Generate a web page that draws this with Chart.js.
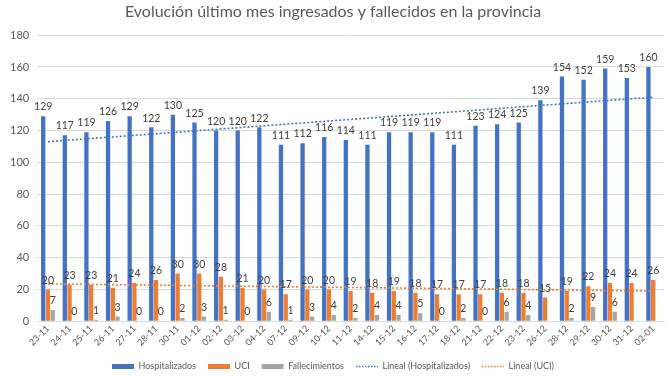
<!DOCTYPE html>
<html lang="es">
  <head>
    <meta charset="UTF-8" />
    <title>Evolución último mes</title>
    <style>
      html, body { margin: 0; padding: 0; background: #fff; }
      .chartBox { width: 670px; height: 377px; }
    </style>
  </head>
  <body>
    <div class="chartBox">
      <canvas id="myChart"></canvas>
    </div>
    <script src="https://cdn.jsdelivr.net/npm/chart.js"></script>
    <script>
      const dias = ["23-11", "24-11", "25-11", "26-11", "27-11", "28-11", "30-11", "01-12", "02-12", "03-12",
        "04-12", "07-12", "09-12", "10-12", "11-12", "14-12", "15-12", "16-12", "17-12", "18-12",
        "21-12", "22-12", "23-12", "26-12", "28-12", "29-12", "30-12", "31-12", "02-01"];
      const hospitalizados = [129, 117, 119, 126, 129, 122, 130, 125, 120, 120, 122, 111, 112, 116, 114,
        111, 119, 119, 119, 111, 123, 124, 125, 139, 154, 152, 159, 153, 160];
      const uci = [20, 23, 23, 21, 24, 26, 30, 30, 28, 21, 20, 17, 20, 20, 19, 18, 19, 18, 17, 17,
        17, 18, 18, 15, 19, 22, 24, 24, 26];
      const fallecimientos = [7, 0, 1, 3, 0, 0, 2, 3, 1, 0, 6, 1, 3, 4, 2, 4, 4, 5, 0, 2,
        0, 6, 4, null, 2, 9, 6, null, null];
      // tendencia lineal: valor en el primer y último día
      const tendHosp = [113, 141];
      const tendUci = [23.5, 19];

      function extremos(par) {
        const d = dias.map(() => null);
        d[0] = par[0];
        d[d.length - 1] = par[1];
        return d;
      }

      // etiquetas de valor encima de las barras
      const etiquetas = {
        id: "etiquetas",
        afterDatasetsDraw(chart) {
          const ctx = chart.ctx;
          ctx.save();
          ctx.font = "10.5px Lato";
          ctx.fillStyle = "#404040";
          ctx.textAlign = "center";
          ctx.textBaseline = "bottom";
          chart.data.datasets.forEach((ds, i) => {
            if (ds.type !== "bar") return;
            const meta = chart.getDatasetMeta(i);
            meta.data.forEach((bar, j) => {
              if (ds.data[j] === null) return;
              ctx.fillText(ds.data[j], bar.x, bar.y - 4);
            });
          });
          ctx.restore();
        },
      };

      const ctx = document.getElementById("myChart").getContext("2d");
      const myChart = new Chart(ctx, {
        data: {
          labels: dias,
          datasets: [
            {
              type: "bar",
              label: "Hospitalizados",
              data: hospitalizados,
              backgroundColor: "#4472C4",
              pointStyle: "rect",
              barPercentage: 0.9,
              categoryPercentage: 0.66,
              order: 2,
            },
            {
              type: "bar",
              label: "UCI",
              data: uci,
              backgroundColor: "#ED7D31",
              pointStyle: "rect",
              barPercentage: 0.9,
              categoryPercentage: 0.66,
              order: 2,
            },
            {
              type: "bar",
              label: "Fallecimientos",
              data: fallecimientos,
              backgroundColor: "#A5A5A5",
              pointStyle: "rect",
              barPercentage: 0.9,
              categoryPercentage: 0.66,
              order: 2,
            },
            {
              type: "line",
              label: "Lineal (Hospitalizados)",
              data: extremos(tendHosp),
              borderColor: "#4472C4",
              backgroundColor: "#4472C4",
              borderWidth: 1.6,
              borderDash: [2, 2],
              pointRadius: 0,
              pointStyle: "line",
              spanGaps: true,
              order: 1,
            },
            {
              type: "line",
              label: "Lineal (UCI)",
              data: extremos(tendUci),
              borderColor: "#ED7D31",
              backgroundColor: "#ED7D31",
              borderWidth: 1.6,
              borderDash: [2, 2],
              pointRadius: 0,
              pointStyle: "line",
              spanGaps: true,
              order: 1,
            },
          ],
        },
        options: {
          responsive: true,
          maintainAspectRatio: false,
          animation: false,
          layout: { padding: { left: 2, right: 6, top: 2, bottom: -4 } },
          plugins: {
            title: {
              display: true,
              text: "Evolución último mes ingresados y fallecidos en la provincia",
              color: "#595959",
              font: { family: "Lato", size: 16, weight: "normal" },
              padding: { top: 0, bottom: 14 },
            },
            legend: {
              position: "bottom",
              labels: {
                color: "#595959",
                font: { family: "Lato", size: 9 },
                usePointStyle: true,
                pointStyleWidth: 22,
                boxHeight: 5,
                padding: 12,
                sort: (a, b) => a.datasetIndex - b.datasetIndex,
                generateLabels(chart) {
                  return chart.data.datasets.map((ds, i) => ({
                    text: ds.label,
                    datasetIndex: i,
                    fillStyle: ds.type === "bar" ? ds.backgroundColor : "rgba(0,0,0,0)",
                    strokeStyle: ds.type === "bar" ? "rgba(0,0,0,0)" : ds.borderColor,
                    lineWidth: ds.type === "bar" ? 0 : 1.3,
                    lineDash: ds.type === "bar" ? [] : [1.5, 1.5],
                    pointStyle: ds.pointStyle,
                    fontColor: "#595959",
                    hidden: false,
                  }));
                },
              },
            },
            tooltip: { enabled: false },
          },
          scales: {
            x: {
              grid: { display: false, drawTicks: false },
              border: { color: "#D9D9D9" },
              ticks: {
                color: "#595959",
                font: { family: "Lato", size: 9 },
                minRotation: 45,
                maxRotation: 45,
                autoSkip: false,
                padding: 2,
              },
            },
            y: {
              min: 0,
              max: 180,
              grid: { color: "#D9D9D9", drawTicks: false },
              border: { display: false },
              ticks: {
                stepSize: 20,
                color: "#595959",
                font: { family: "Lato", size: 11 },
                padding: 8,
              },
            },
          },
        },
        plugins: [etiquetas],
      });
    </script>
  </body>
</html>
